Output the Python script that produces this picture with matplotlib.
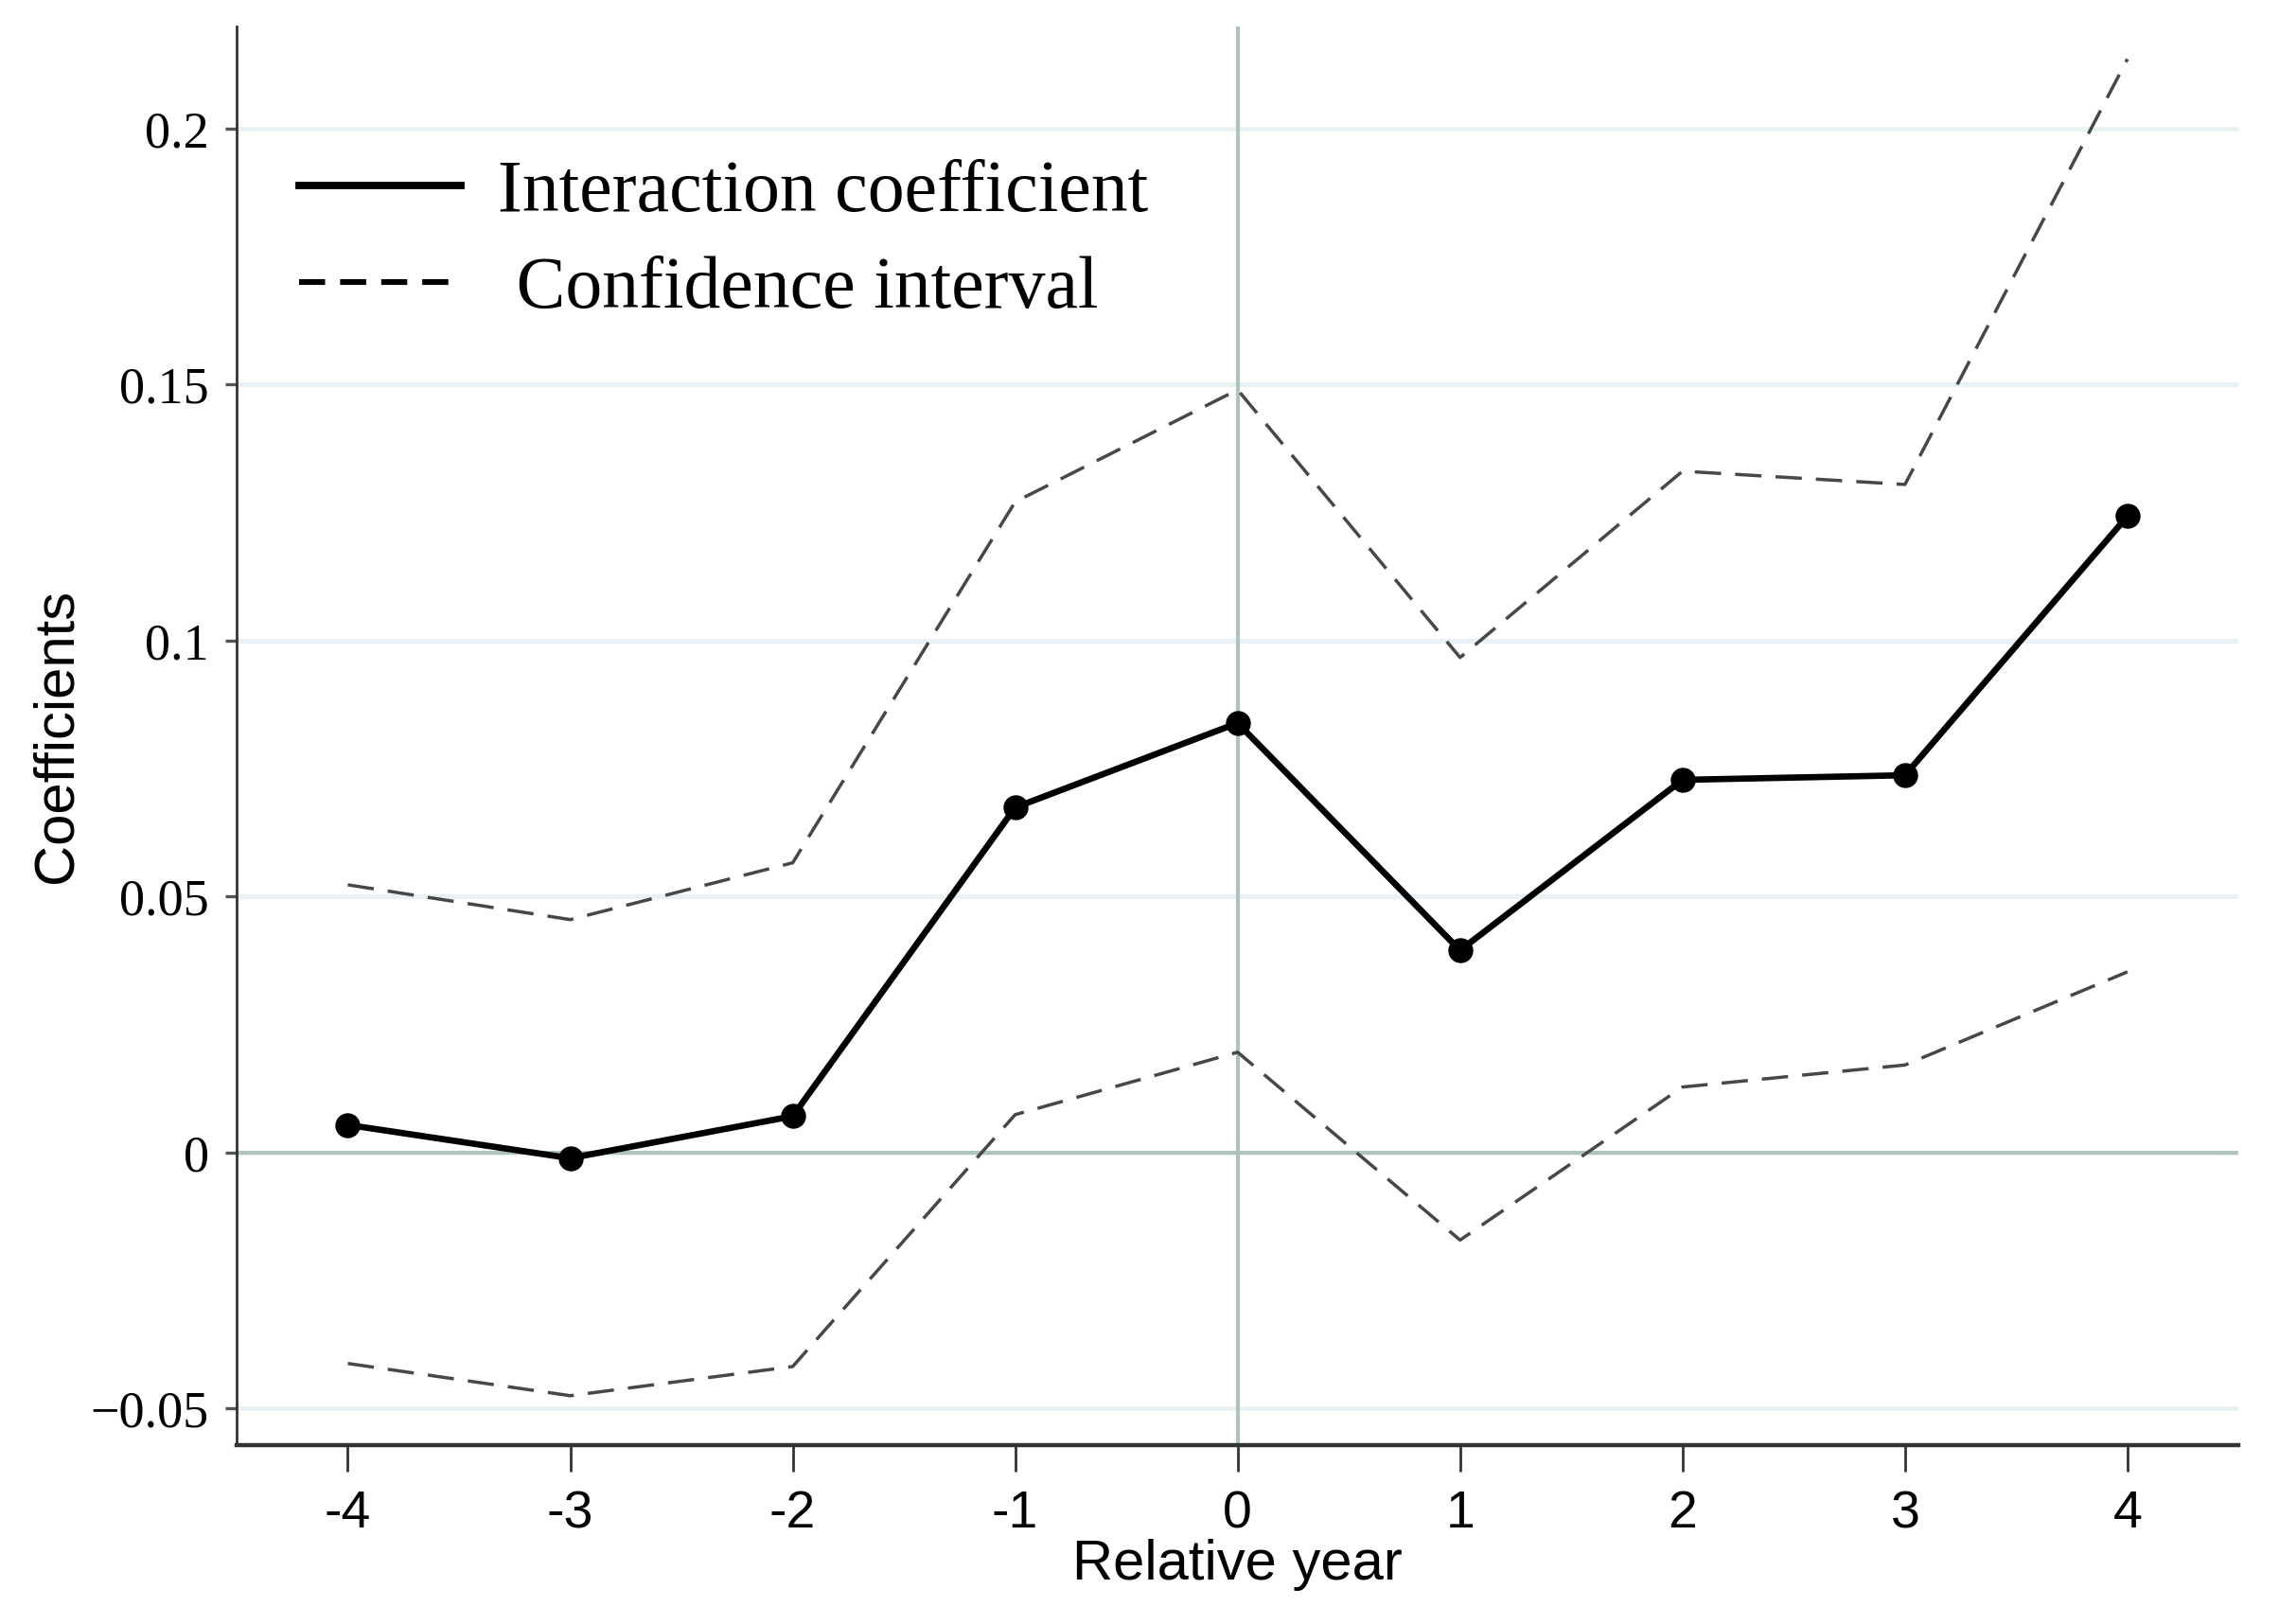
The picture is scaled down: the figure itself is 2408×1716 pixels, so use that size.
import matplotlib
matplotlib.use("Agg")
import matplotlib.pyplot as plt
from matplotlib.lines import Line2D
from matplotlib import font_manager

years = [-4, -3, -2, -1, 0, 1, 2, 3, 4]
coef = [0.0054, -0.0011, 0.0071, 0.0674, 0.0839, 0.0395, 0.0728, 0.0737, 0.1243]
ci_upper = [0.0523, 0.0455, 0.0566, 0.1271, 0.1490, 0.0967, 0.1331, 0.1305, 0.2136]
ci_lower = [-0.0412, -0.0475, -0.0418, 0.0074, 0.0196, -0.0171, 0.0128, 0.0171, 0.0353]
yticks = [-0.05, 0, 0.05, 0.1, 0.15, 0.2]
ytick_labels = ["\u22120.05", "0", "0.05", "0.1", "0.15", "0.2"]
legend_labels = ["Interaction coefficient", " Confidence interval"]

names = {f.name for f in font_manager.fontManager.ttflist}
narrow = "Liberation Sans Narrow" if "Liberation Sans Narrow" in names else "Liberation Sans"

fig = plt.figure(figsize=(12.04, 8.58), dpi=200)
ax = fig.add_axes([0.1038, 0.1100, 0.8785, 0.8738])

for y in yticks:
    ax.axhline(y, color="#eaf1f4", lw=1.8, zorder=0)
ax.axhline(0, color="#afc3bd", lw=1.5, zorder=1)
ax.axvline(0, color="#afc3bd", lw=1.5, zorder=1)

ax.plot(years, ci_upper, color="#474747", lw=1.25, dashes=(8, 4.3), zorder=2)
ax.plot(years, ci_lower, color="#474747", lw=1.25, dashes=(8, 4.3), zorder=2)
ax.plot(years, coef, color="black", lw=2.4, marker="o", ms=8.5, zorder=3)

ax.set_xlim(-4.5, 4.5)
ax.set_ylim(-0.0572, 0.22)
ax.set_xticks(years)
ax.set_xticklabels([str(v) for v in years], family=narrow, fontsize=20)
ax.set_yticks(yticks)
ax.set_yticklabels(ytick_labels, family="Liberation Serif", fontsize=19.5)

for s in ["top", "right"]:
    ax.spines[s].set_visible(False)
ax.spines["left"].set_linewidth(1.0)
ax.spines["left"].set_color("#333333")
ax.spines["bottom"].set_linewidth(1.6)
ax.spines["bottom"].set_color("#333333")
ax.tick_params(axis="x", length=10, width=1.0, color="#333333", pad=7)
ax.tick_params(axis="y", length=4.5, width=1.2, color="#555555", pad=6)

ax.set_xlabel("Relative year", family="Liberation Sans", fontsize=21.5, labelpad=0)
ax.set_ylabel("Coefficients", family="Liberation Sans", fontsize=21.5, labelpad=3)

handles = [Line2D([], [], color="black", lw=2.8),
           Line2D([], [], color="black", lw=2.2, dashes=(4.5, 2.6))]
ax.legend(handles, legend_labels, loc="upper left", bbox_to_anchor=(-0.002, 0.953),
          frameon=False, prop={"family": "Liberation Serif", "size": 28},
          handlelength=2.2, handletextpad=0.5, labelspacing=0.4)

fig.savefig("out.png", dpi=200, facecolor="white")
